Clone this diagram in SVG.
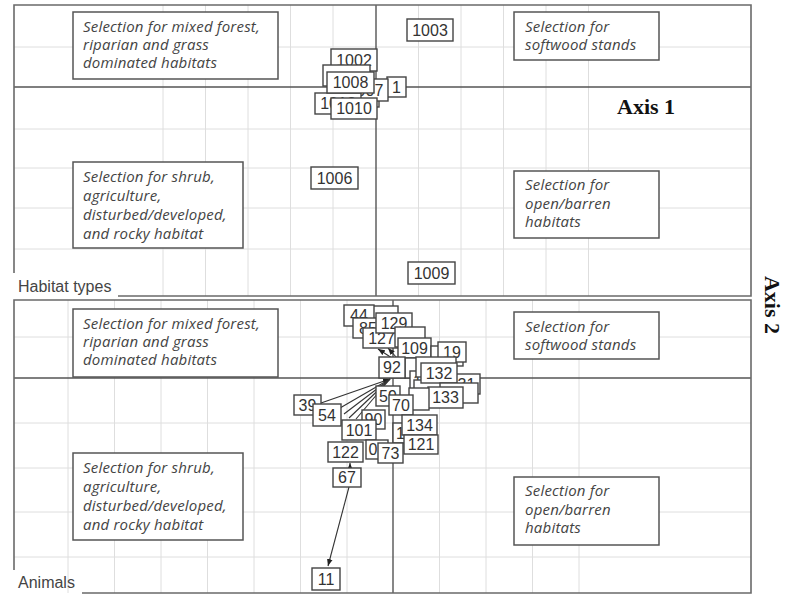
<svg xmlns="http://www.w3.org/2000/svg" width="788" height="596" viewBox="0 0 788 596">
  <style>
    .grid { stroke: #dedede; stroke-width: 1; fill: none; }
    .axis { stroke: #555; stroke-width: 1.4; fill: none; }
    .frame { stroke: #6a6a6a; stroke-width: 1.6; fill: none; }
    .caption { font-family: "Liberation Sans", Arial, sans-serif; font-size: 16px; fill: #444; }
    .axislabel { font-family: "Liberation Serif", "Times New Roman", serif; font-weight: bold; font-size: 22px; fill: #111; }
    .note rect { fill: #fff; stroke: #555; stroke-width: 1.5; }
    .note text { font-family: "Open Sans", Lato, sans-serif; font-style: italic; font-size: 15px; letter-spacing: 0.2px; fill: #444; }
    .pt rect { fill: #fff; stroke: #444; stroke-width: 1.4; }
    .pt text { font-family: "Liberation Sans", Arial, sans-serif; font-size: 16px; fill: #333; text-anchor: middle; }
    .pt text.start { text-anchor: start; }
    .conn line { stroke: #333; stroke-width: 1.1; }
  </style>
  <defs>
    <marker id="arrow" viewBox="0 0 10 10" refX="10" refY="5" markerWidth="7" markerHeight="7" orient="auto" markerUnits="userSpaceOnUse">
      <path d="M0,1 L10,5 L0,9 z" fill="#222"/>
    </marker>
  </defs>

  <rect width="788" height="596" fill="#fff"/>

  <!-- Habitat types panel: grid -->
  <g id="grid-habitat" class="grid">
    <path d="M163,5V296 M205.5,5V296 M248,5V296 M290.5,5V296 M333,5V296 M418.5,5V296 M461,5V296 M503.5,5V296 M546,5V296 M588.5,5V296"/>
    <path d="M14,47H751 M14,129H751 M14,168H751 M14,208H751 M14,249H751"/>
  </g>
  <!-- Animals panel: grid -->
  <g id="grid-animals" class="grid">
    <path d="M68,300V593 M114.5,300V593 M161,300V593 M207.5,300V593 M254,300V593 M300.5,300V593 M347,300V593 M439.5,300V593 M486,300V593 M532.5,300V593 M579,300V593"/>
    <path d="M14,337H751 M14,423H751 M14,468H751 M14,512H751 M14,557H751"/>
  </g>

  <!-- axes -->
  <g id="axes" class="axis">
    <path d="M376,5V296 M14,87H751"/>
    <path d="M393,300V593 M14,378H751"/>
  </g>

  <!-- panel frames, left open at the captions -->
  <g id="frames" class="frame">
    <path d="M118,296H751V5H14V273"/>
    <path d="M82,593H751V300H14V570"/>
  </g>

  <text class="caption" x="18" y="292">Habitat types</text>
  <text class="caption" x="18" y="588">Animals</text>
  <text class="axislabel" x="617" y="114">Axis 1</text>
  <text class="axislabel" transform="translate(765,305) rotate(90)" text-anchor="middle">Axis 2</text>

  <!-- quadrant notes, habitat panel -->
  <g id="note-hab-mixed" class="note">
    <rect x="73" y="12" width="205" height="67"/>
    <text x="83" y="32">Selection for mixed forest,</text>
    <text x="83" y="50">riparian and grass</text>
    <text x="83" y="68">dominated habitats</text>
  </g>
  <g id="note-hab-softwood" class="note">
    <rect x="514" y="12" width="145" height="48"/>
    <text x="525" y="32">Selection for</text>
    <text x="525" y="50">softwood stands</text>
  </g>
  <g id="note-hab-shrub" class="note">
    <rect x="73" y="162" width="170" height="86"/>
    <text x="83" y="182">Selection for shrub,</text>
    <text x="83" y="201">agriculture,</text>
    <text x="83" y="220">disturbed/developed,</text>
    <text x="83" y="239">and rocky habitat</text>
  </g>
  <g id="note-hab-open" class="note">
    <rect x="514" y="171" width="145" height="67"/>
    <text x="525" y="190">Selection for</text>
    <text x="525" y="208.5">open/barren</text>
    <text x="525" y="227">habitats</text>
  </g>

  <!-- quadrant notes, animals panel -->
  <g id="note-ani-mixed" class="note">
    <rect x="73" y="309" width="205" height="68"/>
    <text x="83" y="329">Selection for mixed forest,</text>
    <text x="83" y="347">riparian and grass</text>
    <text x="83" y="365">dominated habitats</text>
  </g>
  <g id="note-ani-softwood" class="note">
    <rect x="514" y="312" width="145" height="47"/>
    <text x="525" y="332">Selection for</text>
    <text x="525" y="350">softwood stands</text>
  </g>
  <g id="note-ani-shrub" class="note">
    <rect x="73" y="453" width="170" height="87"/>
    <text x="83" y="473">Selection for shrub,</text>
    <text x="83" y="492">agriculture,</text>
    <text x="83" y="511">disturbed/developed,</text>
    <text x="83" y="530">and rocky habitat</text>
  </g>
  <g id="note-ani-open" class="note">
    <rect x="514" y="477" width="145" height="68"/>
    <text x="525" y="496">Selection for</text>
    <text x="525" y="514.5">open/barren</text>
    <text x="525" y="533">habitats</text>
  </g>

  <!-- connectors between animal scores -->
  <g id="connectors" class="conn">
    <line x1="349" y1="487" x2="328" y2="566" marker-end="url(#arrow)"/>
    <line x1="350" y1="470" x2="350" y2="463" marker-end="url(#arrow)"/>
    <line x1="321" y1="403" x2="390" y2="379" marker-end="url(#arrow)"/>
    <line x1="340" y1="408" x2="390" y2="379"/>
    <line x1="344" y1="414" x2="390" y2="379"/>
    <line x1="349" y1="418" x2="390" y2="379"/>
    <line x1="356" y1="419" x2="390" y2="379"/>
    <line x1="392" y1="358" x2="378" y2="349" marker-end="url(#arrow)"/>
    <line x1="397" y1="358" x2="388" y2="348" marker-end="url(#arrow)"/>
  </g>

  <!-- habitat type scores -->
  <g id="p-1003" class="pt"><rect x="407" y="19" width="46" height="22"/><text x="430" y="36">1003</text></g>
  <g id="p-1006" class="pt"><rect x="311" y="167" width="47" height="22"/><text x="334.5" y="184">1006</text></g>
  <g id="p-1009" class="pt"><rect x="408" y="262" width="47" height="22"/><text x="431.5" y="279">1009</text></g>
  <g id="p-1002" class="pt"><rect x="331" y="49" width="46" height="22"/><text x="354" y="66">1002</text></g>
  <g id="p-h-back" class="pt"><rect x="323" y="65" width="47" height="21"/></g>
  <g id="p-1011" class="pt"><rect x="333" y="87" width="46" height="20"/><text x="356" y="102.75">1011</text></g>
  <g id="p-1001" class="pt"><rect x="387" y="77" width="19" height="20"/><text x="396.5" y="92.75">1</text></g>
  <g id="p-1007" class="pt"><rect x="343" y="79" width="45" height="22"/><text x="365.5" y="95.75">1007</text></g>
  <g id="p-1012" class="pt"><rect x="315" y="93" width="46" height="21"/><text x="338" y="109.25">1012</text></g>
  <g id="p-1008" class="pt"><rect x="327" y="72" width="47" height="21"/><text x="350.5" y="88.25">1008</text></g>
  <g id="p-1010" class="pt"><rect x="331" y="98" width="46" height="21"/><text x="354" y="114.25">1010</text></g>

  <!-- animal scores -->
  <g id="p-a-b1" class="pt"><rect x="368" y="306" width="30" height="20"/></g>
  <g id="p-44" class="pt"><rect x="344" y="305" width="30" height="21"/><text x="359" y="321.25">44</text></g>
  <g id="p-85" class="pt"><rect x="353" y="318" width="30" height="20"/><text x="368" y="333.75">85</text></g>
  <g id="p-127" class="pt"><rect x="363" y="328" width="37" height="20"/><text x="381.5" y="343.75">127</text></g>
  <g id="p-129" class="pt"><rect x="376" y="313" width="36" height="20"/><text x="394" y="328.75">129</text></g>
  <g id="p-a-b2" class="pt"><rect x="395" y="327" width="30" height="20"/></g>
  <g id="p-109" class="pt"><rect x="398" y="338" width="33" height="20"/><text x="414.5" y="353.75">109</text></g>
  <g id="p-a-b3" class="pt"><rect x="431" y="346" width="32" height="20"/></g>
  <g id="p-19" class="pt"><rect x="438" y="342" width="28" height="20"/><text x="452" y="357.75">19</text></g>
  <g id="p-a-b4" class="pt"><rect x="405" y="358" width="28" height="20"/></g>
  <g id="p-a-1" class="pt"><rect x="410" y="371" width="26" height="20"/><text class="start" x="413" y="386.75">1</text></g>
  <g id="p-a-b5" class="pt"><rect x="414" y="380" width="28" height="20"/></g>
  <g id="p-92" class="pt"><rect x="379" y="357" width="26" height="21"/><text x="392" y="373.25">92</text></g>
  <g id="p-a-b6" class="pt"><rect x="416" y="357" width="40" height="20"/></g>
  <g id="p-131" class="pt"><rect x="444" y="374" width="36" height="20"/><text x="462" y="389.75">131</text></g>
  <g id="p-132" class="pt"><rect x="421" y="363" width="36" height="20"/><text x="439" y="378.75">132</text></g>
  <g id="p-a-b7" class="pt"><rect x="440" y="383" width="38" height="20"/></g>
  <g id="p-133" class="pt"><rect x="428" y="387" width="35" height="21"/><text x="445.5" y="403.25">133</text></g>
  <g id="p-59" class="pt"><rect x="376" y="386" width="24" height="20"/><text x="388" y="401.75">59</text></g>
  <g id="p-a-b8" class="pt"><rect x="409" y="388" width="20" height="22"/></g>
  <g id="p-70" class="pt"><rect x="389" y="395" width="24" height="20"/><text x="401" y="410.75">70</text></g>
  <g id="p-90" class="pt"><rect x="362" y="410" width="23" height="19"/><text x="373.5" y="425.25">90</text></g>
  <g id="p-a-16" class="pt"><rect x="393" y="423" width="28" height="20"/><text class="start" x="396" y="438.75">1</text></g>
  <g id="p-134" class="pt"><rect x="402" y="415" width="35" height="20"/><text x="419.5" y="430.75">134</text></g>
  <g id="p-121" class="pt"><rect x="404" y="435" width="34" height="19"/><text x="421" y="450.25">121</text></g>
  <g id="p-101" class="pt"><rect x="342" y="420" width="34" height="20"/><text x="359" y="435.75">101</text></g>
  <g id="p-a-0" class="pt"><rect x="366" y="440" width="22" height="19"/><text class="start" x="368.5" y="455.25">0</text></g>
  <g id="p-73" class="pt"><rect x="378" y="443" width="25" height="20"/><text x="390.5" y="458.75">73</text></g>
  <g id="p-122" class="pt"><rect x="328" y="442" width="35" height="20"/><text x="345.5" y="457.75">122</text></g>
  <g id="p-39" class="pt"><rect x="294" y="395" width="27" height="20"/><text x="307.5" y="410.75">39</text></g>
  <g id="p-54" class="pt"><rect x="313" y="404" width="28" height="22"/><text x="327" y="420.75">54</text></g>
  <g id="p-67" class="pt"><rect x="333" y="468" width="28" height="19"/><text x="347" y="483.25">67</text></g>
  <g id="p-11" class="pt"><rect x="312" y="568" width="28" height="22"/><text x="326" y="584.75">11</text></g>
</svg>
